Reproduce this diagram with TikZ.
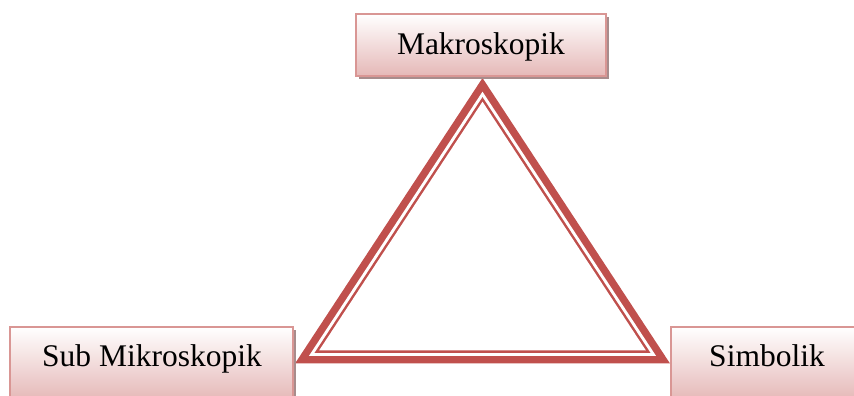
\documentclass[tikz,border=0pt]{standalone}
\usepackage{fontspec}
\setmainfont{Liberation Serif}
\definecolor{tri}{HTML}{C0504D}
\definecolor{boxline}{HTML}{D99694}
\definecolor{boxbot}{HTML}{E5B8B7}
\definecolor{boxshade}{HTML}{A88C8C}
\begin{document}
\begin{tikzpicture}[x=1pt,y=1pt,
  panel/.style={draw=boxline, line width=2.5pt, top color=white, bottom color=boxbot},
  panelshadow/.style={fill=boxshade},
  label/.style={font=\fontsize{31.5}{36}\selectfont, inner sep=0pt, anchor=base}]
\useasboundingbox (0,0) rectangle (854,396);
\clip (0,0) rectangle (854,396);

% triangle: thick outer band, white gap, thin inner line
% (each layer is the outline shrunk towards the incentre)
\fill[tri]   (482.5,318)    -- (295,32.5)     -- (670,32.5)     -- cycle;
\fill[white] (482.5,304.34) -- (308.90,40.0)  -- (656.10,40.0)  -- cycle;
\fill[tri]   (482.5,298.87) -- (314.46,43.0)  -- (650.54,43.0)  -- cycle;
\fill[white] (482.5,294.31) -- (319.09,45.5)  -- (645.91,45.5)  -- cycle;

% boxes with their shadows
\fill[panelshadow] (359,317) rectangle (609,379);
\path[panel] (356,320) rectangle (606,382);
\fill[panelshadow] (13,-7) rectangle (296,66);
\path[panel] (10,-4) rectangle (293,69);
\fill[panelshadow] (674,-7) rectangle (880,66);
\path[panel] (671,-4) rectangle (877,69);

% labels
\node[label] (makro) at (481,341) {Makroskopik};
\node[label] (submikro) at (152,29) {Sub Mikroskopik};
\node[label] (simbol) at (767,29) {Simbolik};
\end{tikzpicture}
\end{document}
